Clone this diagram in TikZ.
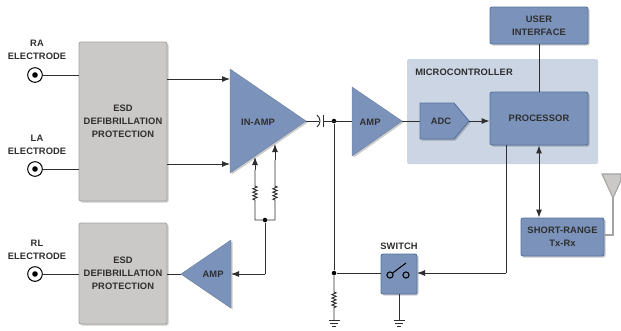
\documentclass[tikz,border=0pt]{standalone}
\usepackage{fontspec}
\setmainfont[LetterSpace=1.2]{Liberation Sans}
\usetikzlibrary{arrows.meta,shadows,decorations.pathmorphing}
\definecolor{bluef}{HTML}{7B93BB}
\definecolor{blued}{HTML}{56729F}
\definecolor{micro}{HTML}{CBD5E4}
\definecolor{grayf}{HTML}{CAC9C7}
\definecolor{grayd}{HTML}{A3A3A1}
\definecolor{inkc}{HTML}{2E2E2E}
\tikzset{
  shad/.style={drop shadow={shadow xshift=1.2pt,shadow yshift=-1.2pt,opacity=.2,fill=black}},
  lbl/.style={font=\bfseries\fontsize{7}{9.8}\selectfont,text=inkc,align=center,inner sep=0pt},
  bluebox/.style={lbl,draw=blued,fill=bluef,line width=.65pt,rounded corners=1.5pt,shad},
  graybox/.style={lbl,draw=grayd,fill=grayf,line width=.65pt,rounded corners=1.5pt,shad,minimum width=66pt},
  tri/.style={draw=bluef!85!black,fill=bluef,line width=.3pt,shad},
  wire/.style={draw=inkc,line width=.7pt},
  arr/.style={wire,-{Latex[length=6pt,width=4.5pt]}},
  elec/.style={circle,draw=black,fill=white,line width=.75pt,minimum size=11pt,inner sep=0pt},
  jdot/.style={circle,fill=black,inner sep=0pt,minimum size=3.4pt},
  res/.style={decorate,decoration={zigzag,segment length=2.6pt,amplitude=1.6pt}},
  gndsym/.pic={\draw[draw=inkc,line width=.7pt] (-5.5,0)--(5.5,0) (-3.7,3)--(3.7,3) (-2,6)--(2,6);}
}
\begin{document}
\begin{tikzpicture}[x=.75pt,y=-.75pt]
\useasboundingbox (0,0) rectangle (621,330);
% microcontroller background
\node[fill=micro,rounded corners=1.5pt,minimum width=191*.75pt,minimum height=105*.75pt,inner sep=0pt] (mcu) at (502.5,111.5) {};
\node[lbl,anchor=west] (mculbl) at (415,72) {MICROCONTROLLER};
% gray boxes
\node[graybox,minimum height=159*.75pt] (esda) at (123,121.5) {ESD\\DEFIBRILLATION\\PROTECTION};
\node[graybox,minimum height=101*.75pt] (esdb) at (123,273.5) {ESD\\DEFIBRILLATION\\PROTECTION};
% electrodes
\node[lbl] (ralbl) at (37,50) {RA\\ELECTRODE};
\node[lbl] (lalbl) at (37,144.5) {LA\\ELECTRODE};
\node[lbl] (rllbl) at (37,249.5) {RL\\ELECTRODE};
\node[elec] (ra) at (35,75) {};
\node[elec] (la) at (35,169) {};
\node[elec] (rl) at (35,274) {};
\foreach \e in {ra,la,rl} \fill[black] (\e.center) circle (2.1pt);
\draw[wire] (ra.east) -- (ra.east -| esda.west);
\draw[wire] (la.east) -- (la.east -| esda.west);
\draw[wire] (rl.east) -- (rl.east -| esdb.west);
% in-amp
\coordinate (ia1) at (230,69); \coordinate (ia2) at (230,173); \coordinate (iaout) at (306,121);
\coordinate (ia3) at (230,79); \coordinate (ia4) at (230,164);
\draw[arr] (ia3 -| esda.east) -- (ia3);
\draw[arr] (ia4 -| esda.east) -- (ia4);
\draw[tri] (ia1) -- (iaout) -- (ia2) -- cycle;
\node[lbl] (ialbl) at (258,122) {IN-AMP};
% RL amp
\coordinate (ra1) at (231,240); \coordinate (ra2) at (231,308); \coordinate (raout) at (181,274); \coordinate (rain) at (231,274);
\draw[wire] (raout) -- (raout -| esdb.east);
\draw[tri] (ra1) -- (ra2) -- (raout) -- cycle;
\node[lbl] (ralabel) at (213,274) {AMP};
% feedback
\coordinate (ti1) at (255,157); \coordinate (ti2) at (275,144);
\coordinate (r1a) at (255,200); \coordinate (r1b) at (255,186);
\coordinate (r2a) at (275,200); \coordinate (r2b) at (275,186);
\coordinate (b1) at (255,220); \coordinate (b2) at (275,220);
\node[jdot] (jf) at (265,220) {};
\draw[wire] (b2) -- (b1) -- (r1a) decorate[res] {-- (r1b)} -- (255,170);
\draw[arr] (255,170) -- (ti1);
\draw[wire] (b2) -- (r2a) decorate[res] {-- (r2b)} -- (275,160);
\draw[arr] (275,160) -- (ti2);
\coordinate (fbc) at (265,274);
\draw[wire] (jf) -- (fbc);
\draw[arr] (fbc) -- (rain);
% capacitor and amp
\coordinate (c1) at (319,121); \coordinate (c2) at (323,121);
\draw[wire] (iaout) -- (c1);
\draw[wire] (317,115) .. controls (321,118) and (321,124) .. (317,127);
\draw[wire] (323,115) -- (323,127);
\coordinate (aa1) at (352,87); \coordinate (aa2) at (352,156); \coordinate (aain) at (352,121); \coordinate (aaout) at (402,121);
\node[jdot] (jc) at (334,121) {};
\draw[wire] (c2) -- (aain);
\draw[tri] (aa1) -- (aaout) -- (aa2) -- cycle;
\node[lbl] (aalbl) at (370,122) {AMP};
% ADC
\coordinate (adcin) at (420,121); \coordinate (adcout) at (469,121);
\draw[wire] (aaout) -- (adcin);
\draw[tri,draw=blued,line width=.65pt] (adcin |- 0,103) -- (454,103) -- (adcout) -- (454,139) -- (adcin |- 0,139) -- cycle;
\node[lbl] (adclbl) at (441,121) {ADC};
% processor etc.
\node[bluebox,minimum width=98*.75pt,minimum height=53*.75pt] (proc) at (539,118.5) {PROCESSOR};
\node[bluebox,minimum width=98*.75pt,minimum height=37*.75pt] (ui) at (539,25.5) {USER\\INTERFACE};
\node[bluebox,minimum width=83*.75pt,minimum height=38*.75pt] (radio) at (562.5,237) {SHORT-RANGE\\Tx-Rx};
\draw[arr] (adcout) -- (adcout -| proc.west);
\draw[wire] (ui) -- (proc);
\draw[{Latex[length=6pt,width=4.5pt]}-{Latex[length=6pt,width=4.5pt]},wire] (proc.south) -- (proc.south |- radio.north);
% antenna
\coordinate (ant) at (613,198);
\draw[draw=grayd,line width=.8pt,fill=grayf] (602,174) -- (621,174) -- (621,180.5) -- (ant) -- cycle;
\coordinate (antc) at (613,235);
\draw[draw=grayd,line width=.9pt] (ant) -- (antc) -- (antc -| radio.east);
% switch
\node[lbl] (swlbl) at (399,246) {SWITCH};
\node[bluebox,minimum width=36*.75pt,minimum height=40*.75pt] (sw) at (399,274) {};
\node[circle,draw=black,line width=.8pt,inner sep=0pt,minimum size=4.6pt] (s1) at (390,275) {};
\node[circle,draw=black,line width=.8pt,inner sep=0pt,minimum size=4.6pt] (s2) at (406,275) {};
\coordinate (lev) at (406,263);
\draw[draw=black,line width=.8pt] (s1) -- (lev);
\coordinate (sctl) at (506,273);
\coordinate (stip) at (417,273);
\coordinate (sin) at (381,273);
\draw[wire] (proc.south -| sctl) -- (sctl);
\draw[arr] (sctl) -- (stip);
\node[jdot] (js) at (334,273) {};
\draw[wire] (js) -- (sin);
\draw[wire] (jc) -- (js);
\coordinate (g1) at (334,320); \coordinate (g2) at (399,320);
\coordinate (r3a) at (334,292); \coordinate (r3b) at (334,308);
\draw[wire] (js) -- (r3a) decorate[res] {-- (r3b)} -- (g1);
\draw[wire] (sw.south) -- (g2);
\pic at (g1) {gndsym};
\pic at (g2) {gndsym};
\end{tikzpicture}
\end{document}
